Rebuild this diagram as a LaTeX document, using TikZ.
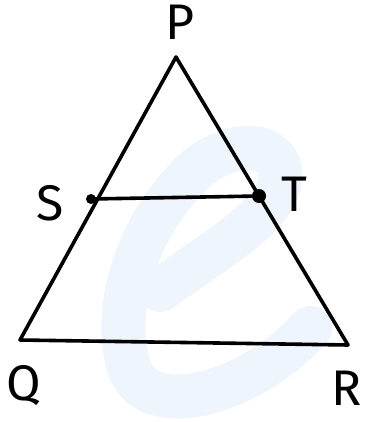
\documentclass[tikz,border=0pt]{standalone}
\usepackage{fontspec}
\setmainfont{Fira Sans}
\begin{document}
\begin{tikzpicture}[x=1pt,y=-1pt,
  edge/.style={line width=3.6pt,line cap=round,line join=round,black},
  lbl/.style={font=\fontsize{50}{50}\selectfont, inner sep=0pt},
  dot/.style={circle,fill=black,inner sep=0pt}]
\useasboundingbox (0,0) rectangle (374,422);
\fill[white] (0,0) rectangle (374,422);
% watermark
\draw[line width=44pt,color={rgb,255:red,238;green,245;blue,252},line cap=round]
  (160,290) .. controls (230,240) and (285,210) .. (280,170)
  .. controls (275,140) and (225,140) .. (190,175)
  .. controls (130,235) and (112,320) .. (130,370)
  .. controls (150,420) and (250,395) .. (310,328);
\coordinate (P) at (176,57);
\coordinate (Q) at (20,340);
\coordinate (R) at (348,345);
\coordinate (S) at (91,199);
\coordinate (T) at (259,196);
\draw[edge] (P) -- (Q) -- (R) -- cycle;
\draw[edge] (S) -- (T);
\node[dot,minimum size=10pt] (Sd) at (S) {};
\node[dot,minimum size=14pt] (Td) at (T) {};
\node[lbl] (Pl) at (180,22) {P};
\node[lbl] (Sl) at (50,203) {S};
\node[lbl] (Tl) at (294,194) {T};
\node[lbl] (Ql) at (24,386) {Q};
\node[lbl] (Rl) at (347,388) {R};
\end{tikzpicture}
\end{document}
